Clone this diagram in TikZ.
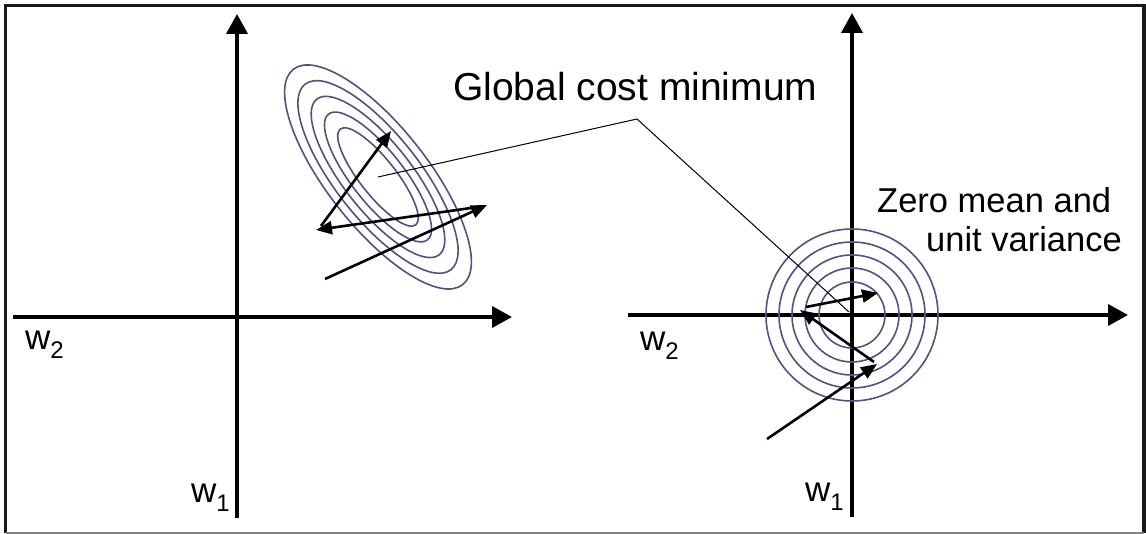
\documentclass[tikz,border=0pt]{standalone}
\usepackage{fontspec}
\setmainfont{Liberation Sans}
\usetikzlibrary{arrows.meta}
\definecolor{contourcol}{RGB}{88,78,130}
\definecolor{framecol}{RGB}{25,25,25}
\newcommand{\wsub}[1]{w\raisebox{-9pt}{\fontsize{24}{24}\selectfont #1}}
\begin{document}
\begin{tikzpicture}[x=1pt,y=-1pt,
  axis/.style={line width=3.8pt, -{Triangle[length=20pt,width=21pt]}},
  grad/.style={line width=2.6pt, -{Triangle[length=16pt,width=13pt]}},
  contour/.style={draw=contourcol, line width=1.6pt},
  leader/.style={line width=1pt},
  lbl/.style={inner sep=0pt, anchor=base west, font=\fontsize{35}{35}\selectfont},
  big/.style={inner sep=0pt, anchor=base west, font=\fontsize{39}{42}\selectfont},
  mid/.style={inner sep=0pt, anchor=base west, font=\fontsize{34.5}{36}\selectfont}]
\useasboundingbox (0,0) rectangle (1146,534);
\fill[white] (0,0) rectangle (1146,534);
% frame
\draw[framecol, line width=3.2pt] (5.5,533) -- (5.5,5.5) -- (1144,5.5) -- (1144,533);
\draw[gray, line width=2pt] (5.5,533) -- (1144,533);
% left axes
\coordinate (Lxs) at (13,317);
\coordinate (Lxe) at (512,317);
\coordinate (Lys) at (237,518);
\coordinate (Lye) at (237,14);
\draw[axis] (Lxs) -- (Lxe);
\draw[axis] (Lys) -- (Lye);
% right axes
\coordinate (R0) at (852,315);
\coordinate (Rxs) at (628,315);
\coordinate (Rxe) at (1128,315);
\coordinate (Rys) at (852,517);
\coordinate (Rye) at (852,13);
\draw[axis] (Rxs) -- (Rxe);
\draw[axis] (Rys) -- (Rye);
% contours
\coordinate (Lc) at (378,177);
\foreach \a/\b in {137/50,118/42,99/34,80/26,61/18}
  \draw[contour, rotate around={-51.8:(Lc)}] (Lc) ellipse [x radius=\a, y radius=\b];
\foreach \r in {86,73,60,47,33}
  \draw[contour] (R0) circle [radius=\r];
% gradient steps left
\coordinate (P0) at (325,279);
\coordinate (P1) at (487,205);
\coordinate (P1b) at (478,207);
\coordinate (P2) at (316,230);
\coordinate (P2b) at (321,226);
\coordinate (P3) at (391,131);
\draw[grad] (P0) -- (P1);
\draw[grad] (P1b) -- (P2);
\draw[grad] (P2b) -- (P3);
% gradient steps right
\coordinate (Q0) at (767,439);
\coordinate (Q1) at (877,364);
\coordinate (Q1b) at (874,362);
\coordinate (Q2) at (800,310);
\coordinate (Q2b) at (806,307);
\coordinate (Q3) at (878,293);
\draw[grad] (Q0) -- (Q1);
\draw[grad] (Q1b) -- (Q2);
\draw[grad] (Q2b) -- (Q3);
% leader line
\coordinate (K) at (637,119);
\coordinate (Rend) at (849,312);
\draw[leader] (Lc) -- (K) -- (Rend);
% texts
\node[big] (gcm) at (453,101) {Global cost minimum};
\node[mid] (zm1) at (877,213) {Zero mean and};
\node[mid] (zm2) at (926,252) {unit variance};
\node[lbl] (lw2) at (25,350) {\wsub{2}};
\node[lbl] (lw1) at (191,502) {\wsub{1}};
\node[lbl] (rw2) at (640,351) {\wsub{2}};
\node[lbl] (rw1) at (805,501) {\wsub{1}};
\end{tikzpicture}
\end{document}
